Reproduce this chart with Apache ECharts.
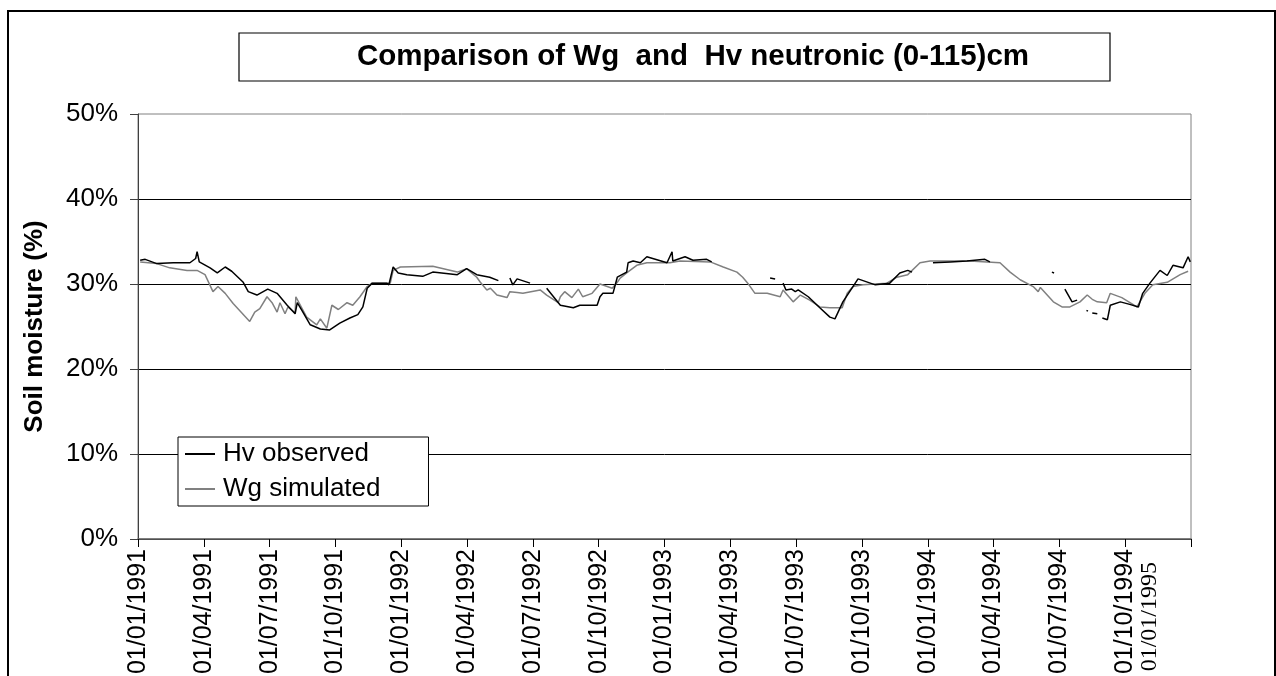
<!DOCTYPE html>
<html>
<head>
<meta charset="utf-8">
<script src="https://cdn.jsdelivr.net/npm/echarts@6/dist/echarts.min.js"></script>
<style>
  html, body { margin: 0; padding: 0; background: #fff; }
  #chart { width: 1276px; height: 676px; }
</style>
</head>
<body>
<div id="chart"></div>
<script>
// days since 01/01/1991, values in % (null = no measurement)
const obsDay = [3, 10, 26, 49, 72, 80, 82, 85, 100, 110, 121, 130, 146, 153, 165, 180, 193, 207, 218, 221, 228, 239, 253, 266, 280, 294, 305, 312, 318, 325, 345, 348, 354, 361, 373, 395, 409, 443, 456, 470, 488, 500, 505, 516, 520, 526, 544, 555, 567, 586, 604, 613, 637, 641, 645, 659, 665, 678, 680, 687, 697, 706, 734, 741, 742, 759, 770, 789, 796, 830, 877, 884, 890, 895, 899, 907, 912, 916, 930, 946, 960, 967, 978, 992, 999, 1023, 1043, 1057, 1068, 1074, 1088, 1103, 1127, 1150, 1175, 1182, 1220, 1268, 1271, 1276, 1286, 1296, 1303, 1310, 1316, 1318, 1320, 1324, 1331, 1334, 1338, 1345, 1349, 1363, 1376, 1388, 1394, 1404, 1418, 1428, 1436, 1450, 1457, 1460]
const obsVal = [32.8, 32.9, 32.4, 32.5, 32.5, 33.0, 33.8, 32.6, 31.9, 31.3, 32.0, 31.5, 30.2, 29.1, 28.7, 29.4, 28.9, 27.5, 26.5, 27.8, 26.8, 25.2, 24.7, 24.6, 25.4, 26.0, 26.4, 27.3, 29.5, 30.1, 30.1, 29.9, 32.0, 31.3, 31.1, 30.9, 31.4, 31.1, 31.8, 31.1, 30.8, 30.4, null, 30.7, 29.9, 30.6, 30.1, null, 29.5, 27.5, 27.2, 27.5, 27.5, 28.5, 28.9, 28.9, 30.8, 31.4, 32.5, 32.7, 32.5, 33.2, 32.5, 33.8, 32.7, 33.2, 32.8, 32.9, 32.6, null, 30.7, 30.6, null, 30.1, 29.3, 29.4, 29.1, 29.3, 28.5, 27.2, 26.1, 25.9, 27.9, 29.7, 30.6, 29.9, 30.1, 31.3, 31.6, 31.4, null, 32.5, 32.6, 32.7, 32.9, 32.6, null, 31.4, 31.3, null, 29.4, 27.9, 28.1, null, 26.9, 26.8, null, 26.6, 26.5, null, 26.0, 25.8, 27.5, 27.9, 27.6, 27.3, 28.9, 30.1, 31.6, 31.0, 32.2, 31.9, 33.2, 32.6]

const simDay = [3, 26, 44, 68, 82, 93, 104, 111, 121, 132, 155, 162, 169, 179, 186, 193, 197, 204, 208, 218, 219, 234, 248, 253, 262, 269, 278, 290, 298, 308, 318, 325, 350, 354, 364, 409, 443, 456, 470, 475, 484, 489, 498, 512, 516, 526, 534, 558, 567, 583, 586, 592, 602, 611, 617, 630, 641, 658, 665, 669, 678, 692, 706, 738, 752, 794, 812, 831, 839, 846, 856, 873, 891, 895, 909, 919, 932, 946, 960, 977, 984, 992, 1006, 1039, 1053, 1068, 1085, 1099, 1154, 1196, 1210, 1224, 1242, 1249, 1252, 1270, 1282, 1293, 1307, 1317, 1324, 1331, 1344, 1349, 1365, 1386, 1397, 1408, 1428, 1446, 1457]
const simVal = [32.6, 32.4, 31.9, 31.6, 31.6, 31.1, 29.1, 29.7, 28.9, 27.7, 25.6, 26.7, 27.1, 28.5, 27.8, 26.7, 27.8, 26.5, 27.3, 26.6, 28.5, 26.1, 25.2, 25.9, 24.8, 27.5, 27.0, 27.8, 27.5, 28.5, 29.7, 30.1, 30.1, 31.6, 32.0, 32.1, 31.4, 31.8, 30.8, 30.2, 29.3, 29.5, 28.7, 28.4, 29.1, 29.0, 28.9, 29.3, 28.7, 27.8, 28.5, 29.1, 28.4, 29.4, 28.5, 28.9, 30.0, 29.5, 30.2, 30.7, 31.3, 32.2, 32.5, 32.5, 32.7, 32.6, 32.0, 31.4, 30.8, 30.1, 28.9, 28.9, 28.5, 29.3, 27.9, 28.7, 28.1, 27.3, 27.2, 27.2, 28.9, 29.7, 29.9, 30.1, 30.8, 31.1, 32.5, 32.7, 32.7, 32.5, 31.4, 30.5, 29.7, 29.1, 29.6, 27.9, 27.3, 27.3, 27.9, 28.7, 28.2, 27.9, 27.8, 28.9, 28.4, 27.3, 28.9, 29.9, 30.2, 31.1, 31.5]

const tickLabels = ['01/01/1991', '01/04/1991', '01/07/1991', '01/10/1991', '01/01/1992', '01/04/1992', '01/07/1992', '01/10/1992', '01/01/1993', '01/04/1993', '01/07/1993', '01/10/1993', '01/01/1994', '01/04/1994', '01/07/1994', '01/10/1994']
const lastLabel = '01/01/1995'

const totalDays = 1461
const step = totalDays / 16
const font = 'Liberation Sans, Arial, sans-serif'

const chart = echarts.init(document.getElementById('chart'))

chart.setOption({
  animation: false,
  backgroundColor: '#fff',
  title: {
    text: 'Comparison of Wg  and  Hv neutronic (0-115)cm',
    left: 357,
    top: 42,
    padding: 0,
    textStyle: { fontFamily: font, fontSize: 29.5, fontWeight: 'bold', color: '#000' },
  },
  legend: {
    orient: 'vertical',
    left: 178,
    top: 437,
    data: ['Hv observed', 'Wg simulated'],
    backgroundColor: '#fff',
    borderColor: '#000',
    borderWidth: 1,
    borderRadius: 0,
    padding: [4, 48, 4, 7],
    itemGap: 9,
    itemWidth: 30,
    itemHeight: 2,
    icon: 'rect',
    textStyle: { fontFamily: font, fontSize: 26, color: '#000', padding: [0, 0, 0, 3] },
  },
  grid: {
    left: 138,
    right: 85,
    top: 114,
    bottom: 137,
    show: true,
    borderColor: '#808080',
    borderWidth: 1,
    outerBoundsMode: 'none',
  },
  xAxis: {
    type: 'value',
    min: 0,
    max: totalDays,
    interval: step,
    axisLine: { show: true, lineStyle: { color: '#6a6a6a', width: 1.5 } },
    axisTick: { show: true, length: 8, lineStyle: { color: '#000' } },
    axisLabel: {
      rotate: 90,
      margin: 10,
      fontFamily: font,
      fontSize: 25,
      color: '#000',
      formatter: (v) => tickLabels[Math.round(v / step)] || '',
    },
    splitLine: { show: false },
  },
  yAxis: {
    type: 'value',
    min: 0,
    max: 50,
    interval: 10,
    name: 'Soil moisture (%)',
    nameLocation: 'middle',
    nameGap: 90,
    nameTextStyle: { fontFamily: font, fontSize: 26, fontWeight: 'bold', color: '#000' },
    axisLine: { show: true, lineStyle: { color: '#404040' } },
    axisTick: { show: true, length: 8, lineStyle: { color: '#404040' } },
    axisLabel: { formatter: '{value}%', fontFamily: font, fontSize: 26, margin: 20, color: '#000' },
    splitLine: { show: true, showMaxLine: false, lineStyle: { color: '#000', width: 1 } },
  },
  series: [
    {
      name: 'Wg simulated',
      type: 'line',
      symbol: 'none',
      connectNulls: false,
      color: '#808080',
      lineStyle: { width: 1.5, color: '#808080' },
      data: simDay.map((d, i) => [d, simVal[i]]),
    },
    {
      name: 'Hv observed',
      type: 'line',
      symbol: 'none',
      connectNulls: false,
      color: '#000',
      lineStyle: { width: 1.5, color: '#000' },
      data: obsDay.map((d, i) => [d, obsVal[i]]),
    },
  ],
  graphic: [
    {
      type: 'rect',
      z: 0,
      shape: { x: 8, y: 11, width: 1267, height: 720 },
      style: { fill: 'none', stroke: '#000', lineWidth: 2 },
    },
    {
      type: 'rect',
      z: 0,
      shape: { x: 239, y: 33, width: 871, height: 48 },
      style: { fill: '#fff', stroke: '#000', lineWidth: 1.2 },
    },
    {
      type: 'text',
      z: 10,
      x: 1150,
      y: 562,
      rotation: Math.PI / 2,
      style: {
        text: lastLabel,
        fill: '#000',
        fontFamily: 'Liberation Serif, Times New Roman, serif',
        fontSize: 24,
        align: 'right',
        verticalAlign: 'middle',
      },
    },
  ],
})
</script>
</body>
</html>
